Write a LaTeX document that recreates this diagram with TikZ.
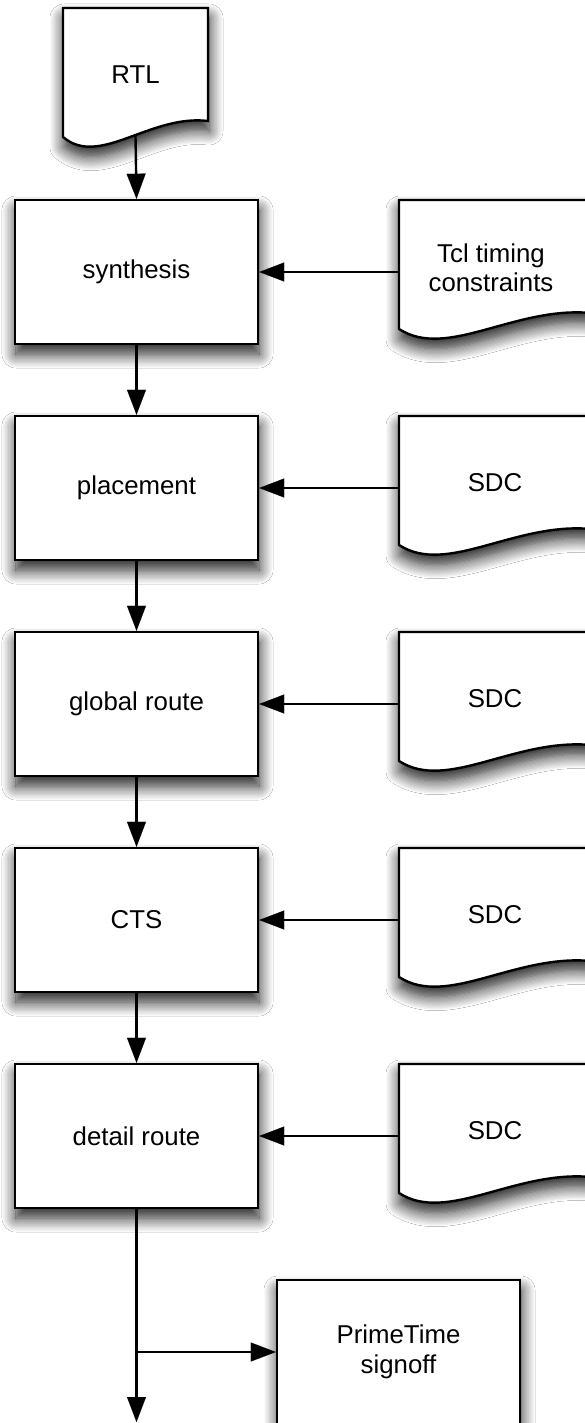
\documentclass[tikz,border=0pt]{standalone}
\usepackage{fontspec}
\setmainfont{Liberation Sans}
\usetikzlibrary{arrows.meta,shadows.blur}
\tikzset{
  lbl/.style={font=\fontsize{25.8}{29.5}\selectfont, align=center, inner sep=0pt},
  shade/.style={blur shadow={shadow xshift=1pt, shadow yshift=-10pt, shadow blur radius=14pt, shadow opacity=90, shadow blur steps=12}},
  box/.style={draw, line width=2.4pt, fill=white, minimum width=243pt, minimum height=144pt, lbl, shade},
  docpath/.style={draw, line width=2.4pt, fill=white, shade},
  docanchor/.style={minimum width=192pt, minimum height=144pt, inner sep=0pt, outer sep=1.2pt},
  flow/.style={draw=black, line width=2.4pt, -{Triangle[length=25pt,width=19pt,fill=black,line width=0.1pt]}}
}
\newcommand\docshape[3]{%
  \path[docpath] (#1,#2) -- ({#1+#3},#2) -- ({#1+#3},{#2+113})
    .. controls ({#1+0.6*#3},{#2+106}) and ({#1+0.25*#3},{#2+160}) .. (#1,{#2+129}) -- cycle;}
\begin{document}
\begin{tikzpicture}[x=1pt,y=-1pt]
\fill[white] (0,0) rectangle (585,1423);
\useasboundingbox (0,0) rectangle (585,1423);

% documents
\docshape{63}{8}{145}
\node[inner sep=0pt, outer sep=1.2pt, minimum width=145pt, minimum height=127pt] (rtl) at (135.5,71.5) {};
\node[lbl] (rtl-t) at (135.5,75) {RTL};

\docshape{399}{200}{192}
\node[docanchor] (tcl) at (495,272) {};
\node[lbl] (tcl-t) at (491,268) {Tcl timing\\constraints};

\docshape{399}{416}{192}
\node[docanchor] (sdc1) at (495,488) {};
\node[lbl] (sdc1-t) at (495,483) {SDC};

\docshape{399}{632}{192}
\node[docanchor] (sdc2) at (495,704) {};
\node[lbl] (sdc2-t) at (495,699) {SDC};

\docshape{399}{848}{192}
\node[docanchor] (sdc3) at (495,920) {};
\node[lbl] (sdc3-t) at (495,915) {SDC};

\docshape{399}{1064}{192}
\node[docanchor] (sdc4) at (495,1136) {};
\node[lbl] (sdc4-t) at (495,1131) {SDC};

% process boxes
\node[box] (synth) at (136.5,272) {synthesis};
\node[box] (place) at (136.5,488) {placement};
\node[box] (groute) at (136.5,704) {global route};
\node[box] (cts) at (136.5,920) {CTS};
\node[box] (droute) at (136.5,1136) {detail route};
\node[box] (prime) at (398.5,1352) {PrimeTime\\signoff};

\coordinate (end) at (136.5,1422);

% connectors
\draw[flow] (rtl.south) -- (synth.north);
\draw[flow] (synth.south) -- (place.north);
\draw[flow] (place.south) -- (groute.north);
\draw[flow] (groute.south) -- (cts.north);
\draw[flow] (cts.south) -- (droute.north);
\draw[flow] (droute.south) -- (end);
\draw[flow] (droute.south |- prime.west) -- (prime.west);

\draw[flow] (tcl.west) -- (synth.east);
\draw[flow] (sdc1.west) -- (place.east);
\draw[flow] (sdc2.west) -- (groute.east);
\draw[flow] (sdc3.west) -- (cts.east);
\draw[flow] (sdc4.west) -- (droute.east);
\end{tikzpicture}
\end{document}
